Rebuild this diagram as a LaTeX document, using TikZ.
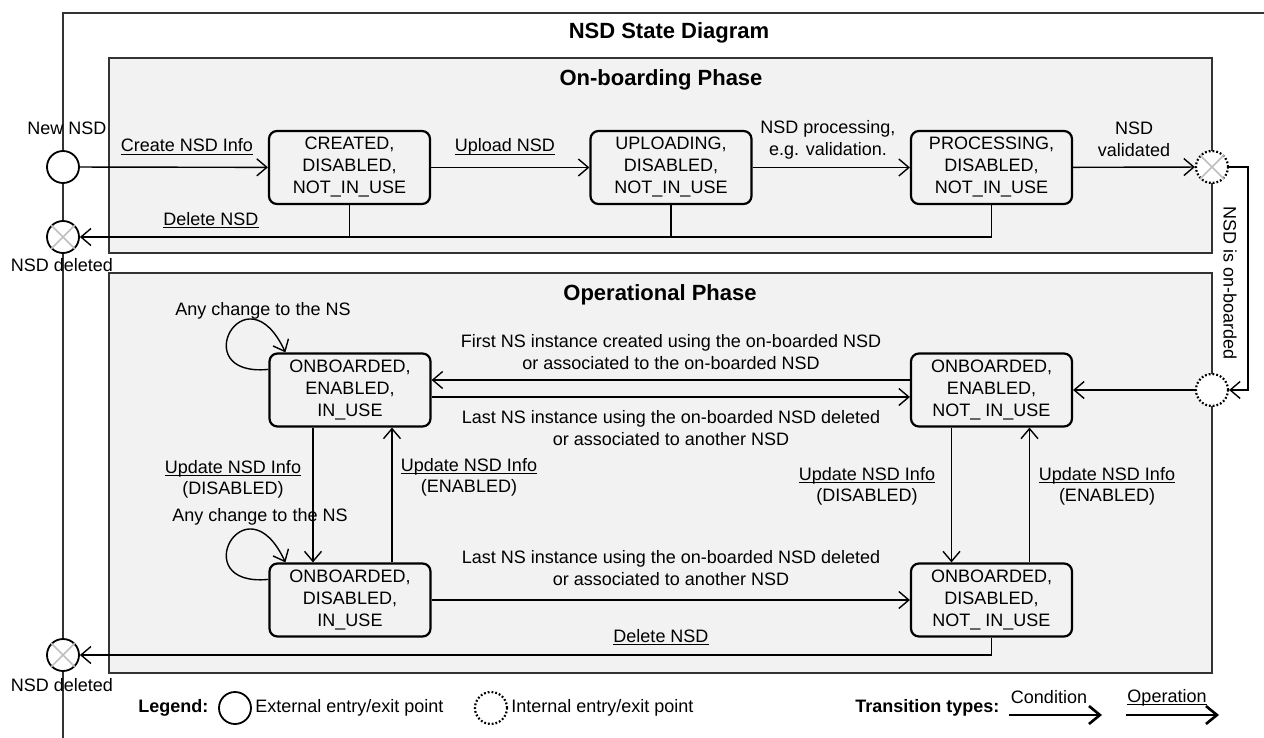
\documentclass[tikz,border=0pt]{standalone}
\usepackage{fontspec}
\setmainfont{Liberation Sans}
\usetikzlibrary{arrows.meta}
\newcommand\opname[1]{\underline{\smash{#1}}}
\begin{document}
\begin{tikzpicture}[x=0.5pt,y=-0.5pt,
  font=\fontsize{9}{11}\selectfont,
  frame/.style={draw=black!80,line width=0.6pt},
  phase/.style={draw=black!80,fill=gray!10,line width=0.8pt},
  state/.style={draw,rounded corners=4pt,line width=1.1pt,minimum width=80.5pt,
    minimum height=36.5pt,align=center,inner sep=1pt},
  extpt/.style={draw,circle,fill=white,line width=0.9pt,minimum size=16pt,inner sep=0pt},
  intpt/.style={extpt,densely dotted,line width=1.1pt},
  link/.style={line width=0.7pt},
  trans/.style={link,-{Straight Barb[length=5pt,width=8.5pt]}},
  bigtrans/.style={line width=1.3pt,-{Straight Barb[length=5.5pt,width=9pt,line width=1.3pt]}},
  xmark/.style={draw=gray!50,line width=0.8pt},
  lbl/.style={align=center,inner sep=0pt},
  title/.style={inner sep=0pt,font=\fontsize{11}{13}\selectfont\bfseries}]
\useasboundingbox (0,0) rectangle (1264,738);
\draw[frame] (63,738) -- (63,13) -- (1264,13);
\node[title] (diagTitle) at (669,33) {NSD State Diagram};

% on-boarding phase
\draw[phase] (109,58) rectangle (1212,253);
\node[title] (onbTitle) at (661,80) {On-boarding Phase};
\node[state] (created)    at (349.5,167.5) {CREATED,\\DISABLED,\\NOT\_IN\_USE};
\node[state] (uploading)  at (671,167.5)   {UPLOADING,\\DISABLED,\\NOT\_IN\_USE};
\node[state] (processing) at (991.5,167.5) {PROCESSING,\\DISABLED,\\NOT\_IN\_USE};
\node[extpt] (newNSD) at (63,167) {};
\node[extpt] (delTop) at (63,237) {};
\node[intpt] (exitPt) at (1212,167) {};
\draw[xmark] (delTop.45) -- (delTop.225) (delTop.135) -- (delTop.315);
\draw[xmark] (exitPt.45) -- (exitPt.225) (exitPt.135) -- (exitPt.315);
\node[lbl] (newLbl) at (67,128) {New NSD};
\node[lbl] (delTopLbl) at (62,265) {NSD deleted};

\draw[trans] (newNSD) -- (created);
\node[lbl] (createLbl) at (187,154) {\opname{Create NSD Info}};
\draw[trans] (created) -- (uploading);
\node[lbl] (uploadLbl) at (505,154) {\opname{Upload NSD}};
\draw[trans] (uploading) -- (processing);
\node[lbl] (procLbl) at (828,140) {NSD processing,\\e.g. validation.};
\draw[trans] (processing) -- (exitPt);
\node[lbl] (validLbl) at (1134,139) {NSD\\validated};
\draw[trans] (processing.south) |- (delTop);
\draw[link] (created.south) -- (created.south |- delTop.center);
\draw[link] (uploading.south) -- (uploading.south |- delTop.center);
\node[lbl] (delTopOp) at (211,227) {\opname{Delete NSD}};

% operational phase
\draw[phase] (109,273) rectangle (1212,673);
\node[title] (opTitle) at (660,295) {Operational Phase};
\node[state] (enInUse)     at (350,390)   {ONBOARDED,\\ENABLED,\\IN\_USE};
\node[state] (enNotInUse)  at (991.5,390) {ONBOARDED,\\ENABLED,\\NOT\_ IN\_USE};
\node[state] (disInUse)    at (350,600)   {ONBOARDED,\\DISABLED,\\IN\_USE};
\node[state] (disNotInUse) at (991.5,600) {ONBOARDED,\\DISABLED,\\NOT\_ IN\_USE};
\node[intpt] (entryPt) at (1212,390) {};
\node[extpt] (delBot) at (63,655) {};
\draw[xmark] (delBot.45) -- (delBot.225) (delBot.135) -- (delBot.315);
\node[lbl] (delBotLbl) at (62,685) {NSD deleted};

\draw[trans] (exitPt) -- ++(36,0) |- (entryPt);
\node[lbl,rotate=-90] (onbLbl) at (1230,283) {NSD is on-boarded};
\draw[trans] (entryPt) -- (enNotInUse);

\draw[trans] ([yshift=5pt]enNotInUse.west) -- ([yshift=5pt]enInUse.east);
\draw[trans] ([yshift=-3.5pt]enInUse.east) -- ([yshift=-3.5pt]enNotInUse.west);
\node[lbl] (firstLbl) at (671,352) {First NS instance created using the on-boarded NSD\\or associated to the on-boarded NSD};
\node[lbl] (lastLbl) at (671,428) {Last NS instance using the on-boarded NSD deleted\\or associated to another NSD};
\draw[trans] (disInUse) -- (disNotInUse);
\node[lbl] (lastLblB) at (671,568) {Last NS instance using the on-boarded NSD deleted\\or associated to another NSD};

\draw[trans] ([xshift=-18.5pt]enInUse.south) -- ([xshift=-18.5pt]disInUse.north);
\draw[trans] ([xshift=21pt]disInUse.north) -- ([xshift=21pt]enInUse.south);
\node[lbl] (updDisL)  at (233,475) {\opname{Update NSD Info}};
\node[lbl] (updDisLb) at (233,490) {(DISABLED)};
\node[lbl] (updEnL)   at (469,473) {\opname{Update NSD Info}};
\node[lbl] (updEnLb)  at (469,488) {(ENABLED)};
\draw[trans] ([xshift=-20pt]enNotInUse.south) -- ([xshift=-20pt]disNotInUse.north);
\draw[trans] ([xshift=19pt]disNotInUse.north) -- ([xshift=19pt]enNotInUse.south);
\node[lbl] (updDisR)  at (867,482) {\opname{Update NSD Info}};
\node[lbl] (updDisRb) at (867,497) {(DISABLED)};
\node[lbl] (updEnR)   at (1107,482) {\opname{Update NSD Info}};
\node[lbl] (updEnRb)  at (1107,497) {(ENABLED)};

\draw[trans] ([yshift=-8.5pt]enInUse.north west) .. controls +(-84,8) and +(-40,-86) .. ([xshift=8.5pt]enInUse.north west);
\node[lbl] (anyLblA) at (263,311) {Any change to the NS};
\draw[trans] ([yshift=-8.5pt]disInUse.north west) .. controls +(-84,8) and +(-40,-86) .. ([xshift=8.5pt]disInUse.north west);
\node[lbl] (anyLblB) at (260,517) {Any change to the NS};

\draw[trans] (disNotInUse.south) |- (delBot);
\node[lbl] (delBotOp) at (661,644) {\opname{Delete NSD}};

% legend
\node[lbl,anchor=west] (legendLbl) at (138,708) {\textbf{Legend:}};
\node[extpt] (legExt) at (235,708) {};
\node[lbl,anchor=west] (legExtLbl) at (255,708) {External entry/exit point};
\node[intpt] (legInt) at (491,708) {};
\node[lbl,anchor=west] (legIntLbl) at (511,708) {Internal entry/exit point};
\node[lbl,anchor=west] (typesLbl) at (855,708) {\textbf{Transition types:}};
\coordinate (condA) at (1009,715);
\coordinate (condB) at (1102,715);
\draw[bigtrans] (condA) -- (condB);
\node[lbl] (condLbl) at (1049,697) {Condition};
\coordinate (operA) at (1126,715);
\coordinate (operB) at (1219,715);
\draw[bigtrans] (operA) -- (operB);
\node[lbl] (operLbl) at (1167,704) {\opname{Operation}};
\end{tikzpicture}
\end{document}
